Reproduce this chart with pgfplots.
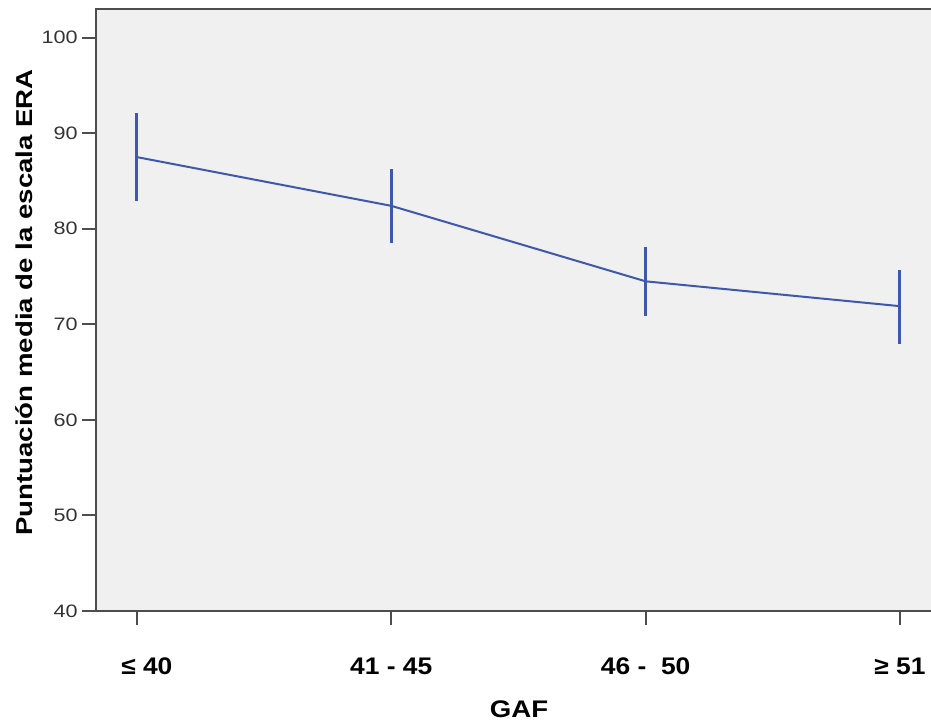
\documentclass[border=0pt]{standalone}
\usepackage{pgfplots}
\pgfplotsset{compat=1.18}
\usepackage{fontspec}
\setmainfont{Liberation Sans}
\definecolor{bg}{HTML}{F0F0F0}
\definecolor{ln}{HTML}{3E58AC}
\definecolor{axc}{HTML}{4D4D4D}
\begin{document}
\begin{tikzpicture}
\begin{axis}[name=ax, scale only axis, width=417.5pt, height=301pt,
  xmin=-0.161, xmax=3.122, ymin=40, ymax=103,
  axis background/.style={fill=bg},
  axis line style={draw=none},
  xtick={0,1,2,3},
  xticklabels={\hspace*{9pt}≤ 40, 41 - 45, 46 -\ \ 50, ≥ 51},
  ytick={40,50,...,100},
  xtick pos=left, ytick pos=left,
  tick align=outside, major tick length=7pt,
  tick style={axc, line width=1pt},
  /pgf/number format/assume math mode=true,
  yticklabel={\scalebox{1.2}[1]{\pgfmathprintnumber{\tick}}},
  yticklabel style={font=\fontsize{9}{10}\selectfont, inner sep=0pt, xshift=-2pt, text=black!80},
  xticklabel style={font=\bfseries\fontsize{12}{14}\selectfont, anchor=center, yshift=-20.5pt, xscale=1.1},
  xlabel={\scalebox{1.15}[1]{GAF}},
  ylabel={\scalebox{1.2}[1]{Puntuación media de la escala ERA}},
  xlabel style={font=\bfseries\fontsize{12}{14}\selectfont, at={(axis description cs:0.5066,-0.1628)}, anchor=center},
  ylabel style={font=\bfseries\fontsize{11.5}{13}\selectfont, at={(axis description cs:-0.0862,0.5125)}, anchor=center, rotate=0},
  clip=false,
]
\addplot[ln, line width=1pt, mark=none,
  error bars/.cd, y dir=both, y explicit, error mark=none,
  error bar style={line width=1.5pt, ln}]
  table[x=x, y=y, y error plus=ep, y error minus=em] {
x y ep em
0 87.5 4.6 4.6
1 82.4 3.9 3.9
2 74.5 3.6 3.6
3 71.9 3.8 4.0
};
\draw[axc, line width=1pt] (rel axis cs:1,1) -- (rel axis cs:0,1) -- (rel axis cs:0,0) -- (rel axis cs:1,0);
\end{axis}
\pgfresetboundingbox
\path[use as bounding box] ([xshift=-48pt,yshift=-54.5pt]ax.south west) rectangle ([yshift=4.5pt]ax.north east);
\end{tikzpicture}
\end{document}
